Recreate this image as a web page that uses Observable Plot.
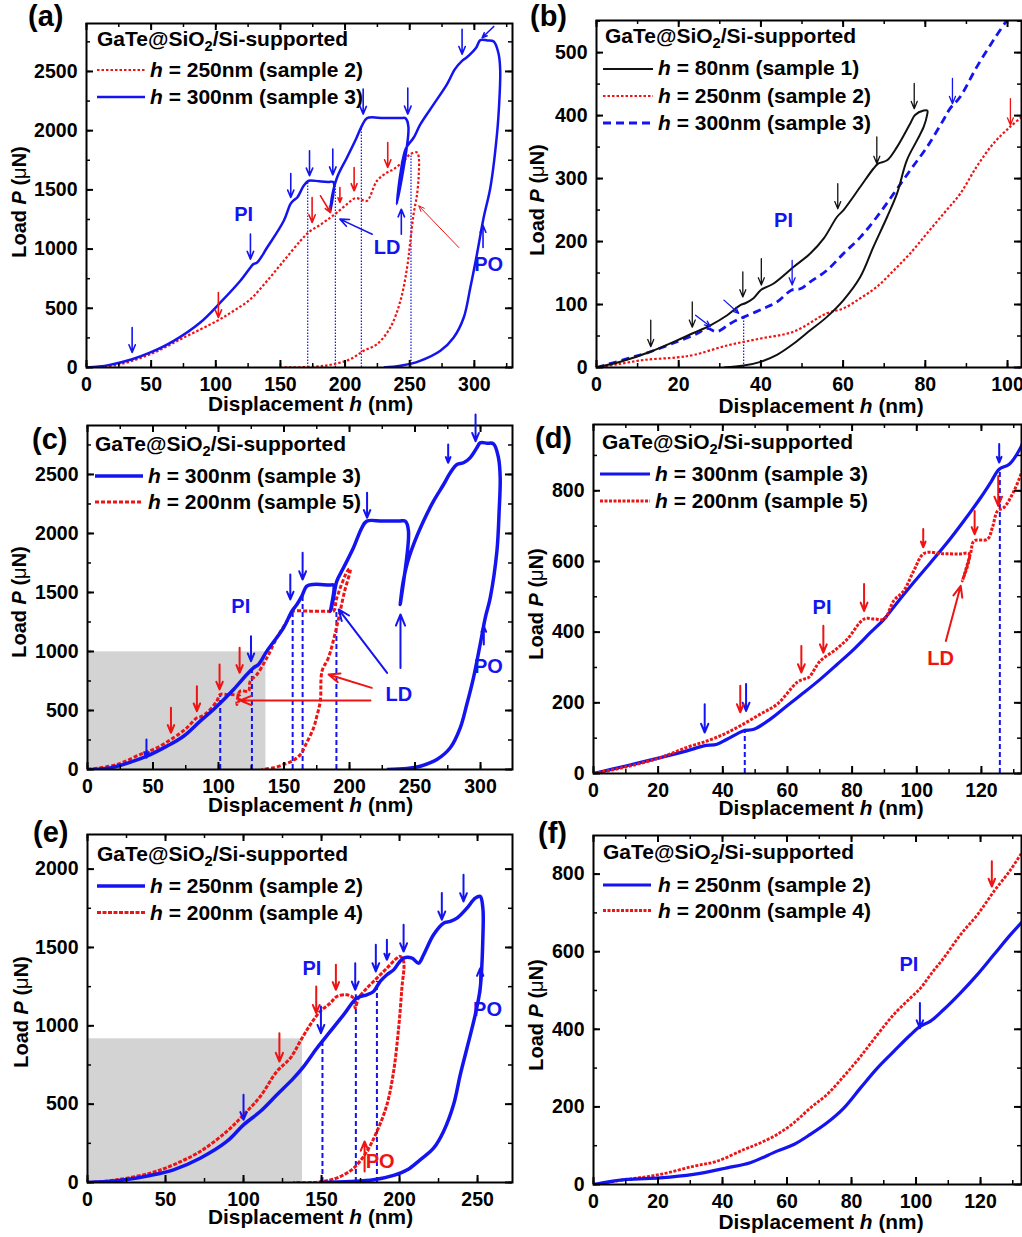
<!DOCTYPE html>
<html><head><meta charset="utf-8">
<script src="https://cdn.jsdelivr.net/npm/d3@7"></script>
<script src="https://cdn.jsdelivr.net/npm/@observablehq/plot@0.6"></script>
<style>
body{margin:0;background:#fff;}
#wrap{position:relative;width:1022px;height:1237px;overflow:hidden;background:#fff;}
</style></head><body><div id="wrap"></div>
<script>
// ---------------- DATA ----------------
// Panel (a)
const aBlue300 = [[0,0],[17,20],[35.3,70],[49.5,127],[67.5,225],[88,380],[103.6,549],[119,732],[126.8,845],[129,873],[132,887],[139.7,1013],[152.6,1239],[157.7,1380],[160,1410],[163,1436],[168,1534],[171.9,1577],[180,1572],[187,1567],[191,1565],[188.5,1318],[190,1450],[193.8,1605],[201.5,1774],[209,1943],[213,2041],[217,2106],[230,2106],[243,2106],[246.6,2106],[249,2030],[240,1380],[243,1650],[247,1850],[253,1940],[258.3,2055],[268.6,2224],[278.9,2393],[285,2520],[290.5,2590],[294,2618],[301.5,2703],[304.6,2765],[310,2762],[315,2753],[318.8,2646],[320,2506],[319.3,2250],[317.5,1970],[312.4,1520],[307.2,1267],[302,957],[296.9,676],[291.8,422],[284,253],[273.7,141],[258,56],[242.8,14],[230,0]];
const aRed250 = [[0,0],[23.7,22],[49.5,113],[75.3,253],[101,394],[113.9,479],[126.8,577],[139.7,732],[152.6,901],[165.5,1070],[173.2,1154],[180.9,1205],[188.7,1267],[193.8,1309],[201.5,1380],[208,1430],[213,1416],[217,1408],[224.7,1577],[232.5,1647],[237.6,1675],[245.4,1745],[250.5,1802],[255.7,1816],[257,1774],[257,1633],[255.7,1464],[253,1295],[250.5,1070],[248,845],[242.8,563],[235,338],[224.7,197],[214.4,141],[204,70],[191,28],[178,8],[152.6,0]];
const aGuides = [[171.1,1577],[192.5,1565],[212.6,2040],[251,1790]];
const aArrowsBlue = [[35.3,338,35.3,127],[126.8,1127,126.8,915],[158,1638,158,1436],[172.5,1830,172.5,1619],[190.5,1844,190.5,1627],[214,2351,214,2140],[248.5,2359,248.5,2140],[290.5,2857,290.5,2646],[315,2880,306,2785],[243.5,1126,243.5,1337],[306.7,1013,306.7,1200],[221,1126,196,1253]];
const aArrowsRed = [[102,633,102,422],[174.5,1436,174.5,1225],[181,1450,188.7,1309],[196,1520,196,1394],[207,1689,207,1492],[233,1900,233,1689]];
const aArrowsRedThin = [[288,1013,257,1365]];
const aLabels = [["PI",121.6,1295],["LD",232.5,1013],["PO",311,873]];
const aXTicks = [0,50,100,150,200,250,300], aXMinor = d3.range(0,330,25);
const aYTicks = [0,500,1000,1500,2000,2500], aYMinor = d3.range(0,2901,250);
const aLegend = ["= 250nm (sample 2)","= 300nm (sample 3)"];

// Panel (b)
const bBlack80 = [[0,0],[5.8,9],[13.1,25],[19.6,43],[23.3,54],[27.7,67],[31.8,83],[35,99],[36.2,102],[38.2,110],[40,123],[43,133],[48,160],[52,181],[55.3,205],[58.5,239],[60.1,250],[64.2,287],[67.4,316],[68.6,324],[70.7,329],[73.1,350],[76.3,387],[77.5,401],[79.6,408],[80.5,408],[80.4,400],[79.6,382],[78,361],[75.5,329],[73.1,276],[70.7,239],[67.4,192],[64.2,144],[60.1,107],[56,80],[52,59],[48,38],[43.9,20],[39.9,9],[35.8,3],[31,0]];
const bRed250 = [[0,0],[5,5],[11.5,12],[19.6,16],[23.7,20],[31.8,35],[39.9,46],[48,57],[56,86],[60.1,94],[64.2,110],[68.2,128],[72.3,154],[76.3,181],[80.4,213],[84.4,244],[88.5,276],[92.5,319],[96.6,356],[100.6,382],[103.5,398]];
const bBlue300 = [[0,0],[7.5,14],[13.1,25],[19.6,41],[24.5,54],[26.9,62],[29.3,57],[32.6,70],[35,78],[35.8,80],[40.7,94],[43.9,104],[47.5,123],[49.6,125],[52,136],[56,154],[60.1,181],[64.2,207],[68.2,239],[72.3,276],[76.3,313],[80.4,350],[84.4,393],[86,411],[88.5,430],[92.5,477],[96.6,520],[99.8,551]];
const bGuides = [[35.8,80]];
const bArrowsBlack = [[13.2,75,13.2,33],[23.3,104,23.3,64],[35.6,152,35.6,112],[40.1,173,40.1,131],[58.7,292,58.7,252],[68.2,366,68.2,324],[77.3,451,77.3,411]];
const bArrowsBlue = [[47.6,170,47.6,131],[86.6,459,86.6,419],[24.1,83,27.7,65],[31,107,34.6,86]];
const bArrowsRed = [[100.7,427,100.7,385]];
const bLabels = [["PI",45.5,234]];
const bXTicks = [0,20,40,60,80,100], bXMinor = d3.range(0,104,10);
const bYTicks = [0,100,200,300,400,500], bYMinor = d3.range(0,551,50);
const bLegend = ["= 80nm (sample 1)","= 250nm (sample 2)","= 300nm (sample 3)"];

// Panel (c)
const cBlue300 = [[0,0],[17.3,14],[35.1,71],[45.3,113],[60.6,198],[73.3,282],[86,410],[96.2,508],[111.5,678],[121.6,805],[126.7,862],[130.5,890],[136.9,1003],[149.6,1200],[156,1342],[159.8,1398],[163.6,1469],[167.4,1554],[172.5,1568],[180,1566],[185,1563],[187.8,1562],[185.5,1342],[187.8,1455],[190.3,1596],[195.4,1709],[203,1879],[209.4,2048],[213.2,2105],[225,2105],[238,2105],[242.5,2105],[245,2020],[238.7,1398],[240.5,1560],[243.8,1737],[248.9,1907],[256.5,2105],[264.1,2274],[271.8,2415],[276.9,2514],[282,2585],[287,2599],[292,2641],[297.2,2726],[299.7,2768],[305,2765],[309.9,2760],[313.7,2641],[315,2472],[314.2,2189],[312.5,1850],[307.4,1455],[303.6,1285],[299.7,1059],[294.6,777],[289.5,551],[284.5,353],[276.9,184],[266.7,85],[254,28],[243.8,8],[228.5,0]];
const cRed200 = [[0,0],[22.4,42],[40.2,127],[52.9,184],[65.6,268],[75.8,353],[83.5,438],[86,445],[91.1,480],[98.7,579],[101.3,636],[106.4,636],[116.5,621],[114,551],[116.5,664],[122.9,664],[124.2,749],[129.3,805],[136.9,946],[144.5,1116],[152.2,1257],[156,1328],[157.3,1342],[170,1342],[183,1342],[187.8,1342],[190.3,1455],[199.2,1695],[200.5,1700],[196,1500],[190,1200],[184,950],[179,833],[177.7,579],[175,450],[172.6,353],[167,220],[162.5,127],[156,70],[149.7,42],[142,15],[133,0]];
const cGuides = [[101.3,636],[125.5,860],[156.6,1342],[164.2,1480],[190,1342]];
const cGrey = [[0,136.2,0,997]];
const cArrowsBlue = [[45,254,45,99],[124.8,1130,124.8,918],[154.8,1652,154.8,1441],[164.2,1836,164.2,1610],[213.4,2345,213.4,2133],[275.3,2754,275.3,2599],[296.2,3008,296.2,2782],[238.9,861,238.9,1314],[302.5,1059,302.5,1215],[228.7,819,191.7,1356]];
const cArrowsRed = [[63.7,523,63.7,311],[83.5,706,83.5,494],[100.8,890,100.8,678],[116.1,1031,116.1,819],[217,692,184,805],[216,585,116.6,585]];
const cLabels = [["PI",117,1384],["LD",237.6,636],["PO",306,876]];
const cXTicks = [0,50,100,150,200,250,300], cXMinor = d3.range(0,325,25);
const cYTicks = [0,500,1000,1500,2000,2500], cYMinor = d3.range(0,2901,250);
const cLegend = ["= 300nm (sample 3)","= 200nm (sample 5)"];

// Panel (d)
const dBlue300 = [[0,0],[10.3,22],[20.7,45],[28.9,64],[34.1,78],[38.2,83],[41.3,97],[46.5,121],[49.6,125],[54.7,154],[59.9,192],[65.1,229],[70.2,267],[75.4,309],[80.6,352],[85.7,399],[89.9,437],[94,484],[99.1,541],[104.3,597],[109.5,654],[114.6,715],[119.8,781],[122.9,824],[125.5,861],[128.6,875],[132.2,923],[133,941]];
const dRed200 = [[0,0],[10.3,19],[20.7,45],[28.9,74],[35.1,92],[40.3,111],[45.4,135],[51.6,168],[56.8,196],[63,258],[65.1,267],[66.6,272],[70.2,319],[74.4,347],[78.5,380],[83.7,437],[87,437],[89.9,437],[92.9,489],[96,517],[99.1,574],[102.3,623],[108,622],[113,621],[116.2,621],[114.1,545],[116.7,625],[117.7,658],[121.9,663],[123.4,696],[125,743],[127,753],[130.1,800],[133,865]];
const dGuides = [[46.8,125],[125.7,861]];
const dArrowsBlue = [[34.4,196,34.4,116],[47.2,253,47.2,177],[125.5,932,125.5,880]];
const dArrowsRed = [[45.4,248,45.4,173],[64.3,361,64.3,286],[71.1,418,71.1,342],[83.7,536,83.7,460],[102,692,102,640],[117.9,743,117.9,677],[125.2,842,125.2,757],[109,375,113.6,531]];
const dLabelsBlue = [["PI",70.7,470]], dLabelsRed = [["LD",107.4,324]];
const dXTicks = [0,20,40,60,80,100,120], dXMinor = d3.range(0,133,10);
const dYTicks = [0,200,400,600,800], dYMinor = d3.range(0,988,100);
const dLegend = ["= 300nm (sample 3)","= 200nm (sample 5)"];

// Panel (e)
const eBlue250 = [[0,0],[18.8,11],[40.2,45],[55.1,81],[72.2,155],[89.3,262],[100,368],[110.7,453],[121.4,560],[132.1,666],[138.5,740],[147,857],[155.6,964],[164.1,1070],[172.6,1177],[179,1198],[183.3,1219],[187.6,1283],[191.9,1326],[196.2,1357],[199.4,1400],[202.6,1432],[208,1432],[212.2,1400],[215.4,1453],[221.8,1581],[228.2,1655],[232.5,1666],[236.8,1687],[243.2,1751],[248.5,1815],[251.7,1826],[253.4,1751],[253.4,1560],[251.7,1240],[248.5,1070],[243.2,857],[238.9,687],[234.6,496],[228.2,326],[221.8,219],[213.2,145],[205,81],[196.2,45],[183.3,17],[168.4,6],[149,0]];
const eRed200 = [[0,0],[18.8,17],[40.2,60],[55.1,113],[72.2,198],[89.3,326],[100,432],[110.7,549],[121.4,709],[130,794],[136.3,900],[142.7,1006],[149.1,1091],[155.6,1145],[159.8,1187],[166.2,1198],[170.5,1177],[171.6,1113],[173.7,1177],[179,1240],[185.5,1304],[191.9,1368],[198.3,1432],[200.4,1443],[202.6,1411],[201.5,1240],[199.4,985],[196.2,709],[191.9,496],[185.5,326],[179,198],[170.5,91],[162,38],[153.4,11],[144.9,0],[132,0]];
const eGuides = [[150.6,900],[172,1198],[185.5,1283]];
const eGrey = [[0,137.8,0,917]];
const eArrowsBlue = [[100,560,100,400],[149.6,1123,149.6,953],[171.6,1400,171.6,1230],[184.8,1517,184.8,1347],[191.9,1549,191.9,1421],[202.6,1645,202.6,1474],[227.1,1847,227.1,1677],[241,1964,241,1794],[251.7,1209,251.7,1368]];
const eArrowsRed = [[123,953,123,772],[146.6,1251,146.6,1081],[159.2,1389,159.2,1230],[177.6,70,177.6,262]];
const eLabelsBlue = [["PI",143.8,1368],["PO",256.4,1102]], eLabelsRed = [["PO",187.6,134]];
const eXTicks = [0,50,100,150,200,250], eXMinor = d3.range(0,273,25);
const eYTicks = [0,500,1000,1500,2000], eYMinor = d3.range(0,2221,250);
const eLegend = ["= 250nm (sample 2)","= 200nm (sample 4)"];

// Panel (f)
const fBlue250 = [[0,0],[10.3,13],[20.7,17],[31,26],[41.4,43],[48.6,56],[56.9,86],[62.1,103],[67.2,129],[72.4,159],[77.6,197],[82.8,249],[88,300],[93.1,343],[98.3,386],[101.4,408],[104.5,421],[108.6,451],[113.8,494],[119,541],[124.1,592],[129.3,644],[133,678]];
const fRed200 = [[0,0],[10.3,13],[20.7,26],[31,47],[38.3,60],[46.6,90],[51.7,107],[56.9,129],[62.1,159],[67.2,197],[72.4,232],[77.6,279],[82.8,330],[88,386],[93.1,438],[98.3,481],[101.4,506],[104.5,541],[108.6,584],[113.8,644],[119,695],[124.1,755],[129.3,811],[133,858]];
const fArrowsBlue = [[101.2,468,101.2,403]];
const fArrowsRed = [[123.5,833,123.5,768]];
const fLabels = [["PI",97.8,567]];
const fXTicks = [0,20,40,60,80,100,120], fXMinor = d3.range(0,133,10);
const fYTicks = [0,200,400,600,800], fYMinor = d3.range(0,900,100);
const fLegend = ["= 250nm (sample 2)","= 200nm (sample 4)"];

// ---------------- RENDER ----------------
const FONT = '"Liberation Sans", Arial, Helvetica, sans-serif';
const BLUE = "#1414f0", RED = "#ee1414", BLACK = "#111";
const wrap = document.getElementById("wrap");
const X = d => d[0], Y = d => d[1];

const line = (data, s) => Plot.line(data, {x: X, y: Y, stroke: s.c, strokeWidth: s.w, strokeDasharray: s.d, strokeLinecap: "butt", strokeLinejoin: "round", curve: "catmull-rom", clip: true});
const guides = (data, w, dash) => Plot.ruleX(data, {x: X, y1: 0, y2: Y, stroke: BLUE, strokeWidth: w, strokeDasharray: dash, strokeLinecap: "butt", clip: true});
const arrows = (data, stroke, w = 1.6) => Plot.arrow(data, {x1: d => d[0], y1: d => d[1], x2: d => d[2], y2: d => d[3], stroke, strokeWidth: w, headLength: 9, headAngle: 45});
const labels = (data, fill) => Plot.text(data, {x: d => d[1], y: d => d[2], text: d => d[0], fill, fontSize: 20, fontWeight: "bold"});
const grey = data => Plot.rect(data, {x1: d => d[0], x2: d => d[1], y1: d => d[2], y2: d => d[3], fill: "#d3d3d3"});

function panel(o) {
  const fw = o.width - o.ml - o.mr, fh = o.height - o.mt - o.mb;
  const id = d => d;
  const ticks = (xs, ys, len, sw) => [
    Plot.tickX(xs, {x: id, insetTop: fh - len, stroke: "black", strokeWidth: sw}),
    Plot.tickX(xs, {x: id, insetBottom: fh - len, stroke: "black", strokeWidth: sw}),
    Plot.tickY(ys, {y: id, insetRight: fw - len, stroke: "black", strokeWidth: sw}),
    Plot.tickY(ys, {y: id, insetLeft: fw - len, stroke: "black", strokeWidth: sw})
  ];
  const svg = Plot.plot({
    width: o.width, height: o.height,
    marginLeft: o.ml, marginRight: o.mr, marginTop: o.mt, marginBottom: o.mb,
    x: {domain: o.xd}, y: {domain: o.yd},
    style: {background: "transparent", overflow: "visible", fontFamily: FONT, fontSize: "19.5px", fontWeight: "bold", color: "black"},
    marks: [
      ...(o.under || []),
      ...o.marks,
      ...ticks(o.xMinor, o.yMinor, 4, 1.5),
      ...ticks(o.xTicks, o.yTicks, 7, 2),
      Plot.frame({stroke: "black", strokeWidth: 2}),
      Plot.axisX(o.xTicks, {tickSize: 0, tickPadding: 10, tickFormat: d => String(d), label: null, fill: "black"}),
      Plot.axisY(o.yTicks, {tickSize: 0, tickPadding: 9, tickFormat: d => String(d), label: null, fill: "black"}),
      ...(o.over || [])
    ]
  });
  svg.style.position = "absolute";
  svg.style.left = o.left + "px";
  svg.style.top = o.top + "px";
  wrap.appendChild(svg);
}

// series styles
const sRedDot = {c: RED, w: 2.2, d: "2.5,2"};
const sBlueA = {c: BLUE, w: 2.5, d: null};
const sBlack = {c: BLACK, w: 2, d: null};
const sBlueDash = {c: BLUE, w: 2.8, d: "8,5"};
const sBlueThick = {c: BLUE, w: 3.5, d: null};
const sRedDash = {c: RED, w: 3, d: "4,2"};
const sRedDot3 = {c: RED, w: 3, d: "3,1.5"};

panel({left: 0, top: 0, width: 520, height: 420, ml: 86, mr: 8, mt: 23, mb: 53,
  xd: [0, 329.5], yd: [0, 2905], xTicks: aXTicks, xMinor: aXMinor, yTicks: aYTicks, yMinor: aYMinor,
  marks: [guides(aGuides, 1.2, "1.5,1.5"), line(aRed250, sRedDot), line(aBlue300, sBlueA)],
  over: [arrows(aArrowsBlue, BLUE), arrows(aArrowsRed, RED), arrows(aArrowsRedThin, RED, 1), labels(aLabels, BLUE)]});

panel({left: 510, top: 0, width: 512, height: 420, ml: 86, mr: 1, mt: 20, mb: 53,
  xd: [0, 103.4], yd: [0, 551], xTicks: bXTicks, xMinor: bXMinor, yTicks: bYTicks, yMinor: bYMinor,
  marks: [guides(bGuides, 1.2, "1.5,1.5"), line(bRed250, sRedDot), line(bBlue300, sBlueDash), line(bBlack80, sBlack)],
  over: [arrows(bArrowsBlack, BLACK, 1.3), arrows(bArrowsBlue, BLUE, 1.3), arrows(bArrowsRed, RED, 1.3), labels(bLabels, BLUE)]});

panel({left: 0, top: 410, width: 520, height: 410, ml: 87, mr: 8, mt: 15, mb: 51,
  xd: [0, 324.4], yd: [0, 2915], xTicks: cXTicks, xMinor: cXMinor, yTicks: cYTicks, yMinor: cYMinor,
  under: [grey(cGrey)],
  marks: [guides(cGuides, 2, "5,3"), line(cRed200, sRedDash), line(cBlue300, sBlueThick)],
  over: [arrows(cArrowsBlue, BLUE, 2), arrows(cArrowsRed, RED, 2), labels(cLabels, BLUE)]});

panel({left: 510, top: 410, width: 512, height: 410, ml: 83, mr: 1, mt: 14, mb: 47,
  xd: [0, 132.4], yd: [0, 987.5], xTicks: dXTicks, xMinor: dXMinor, yTicks: dYTicks, yMinor: dYMinor,
  marks: [guides(dGuides, 2, "5,3"), line(dBlue300, {c: BLUE, w: 3.2, d: null}), line(dRed200, sRedDot3)],
  over: [arrows(dArrowsBlue, BLUE, 2), arrows(dArrowsRed, RED, 2), labels(dLabelsBlue, BLUE), labels(dLabelsRed, RED)]});

panel({left: 0, top: 820, width: 520, height: 417, ml: 87, mr: 8, mt: 14, mb: 55,
  xd: [0, 272.4], yd: [0, 2221], xTicks: eXTicks, xMinor: eXMinor, yTicks: eYTicks, yMinor: eYMinor,
  under: [grey(eGrey)],
  marks: [guides(eGuides, 2, "5,3"), line(eRed200, {c: RED, w: 3, d: "4,1.5"}), line(eBlue250, sBlueThick)],
  over: [arrows(eArrowsBlue, BLUE, 2), arrows(eArrowsRed, RED, 2), labels(eLabelsBlue, BLUE), labels(eLabelsRed, RED)]});

panel({left: 510, top: 820, width: 512, height: 417, ml: 83, mr: 1, mt: 15, mb: 53,
  xd: [0, 132.7], yd: [0, 899.5], xTicks: fXTicks, xMinor: fXMinor, yTicks: fYTicks, yMinor: fYMinor,
  marks: [line(fRed200, {c: RED, w: 2.8, d: "3,1.5"}), line(fBlue250, {c: BLUE, w: 3.2, d: null})],
  over: [arrows(fArrowsBlue, BLUE, 2), arrows(fArrowsRed, RED, 2), labels(fLabels, BLUE)]});

// ---------------- OVERLAY: labels, legends, axis titles ----------------
const ov = d3.select(wrap).append("svg")
  .attr("width", 1022).attr("height", 1237)
  .style("position", "absolute").style("left", "0px").style("top", "0px")
  .style("font-family", FONT).style("font-weight", "bold").style("pointer-events", "none");

function rich(x, y, parts, size, opts = {}) {
  const t = ov.append("text").attr("font-size", size).attr("fill", "black");
  if (opts.rotate) t.attr("transform", `translate(${x},${y}) rotate(-90)`).attr("text-anchor", "middle");
  else t.attr("transform", `translate(${x},${y}) scale(${opts.sx || 1},1)`).attr("text-anchor", opts.anchor || "start");
  let shift = 0;
  for (const [txt, st] of parts) {
    const s = t.append("tspan").text(txt);
    if (st === "i") s.attr("font-style", "italic");
    if (st === "n") s.attr("font-weight", "normal");
    if (st === "sub") { s.attr("font-size", size * 0.7).attr("dy", 5); shift = 5; }
    else if (shift) { s.attr("dy", -shift); shift = 0; }
  }
}

const titleParts = [["GaTe@SiO"], ["2", "sub"], ["/Si-supported"]];
function legend(tx, tb, lx1, lx2, textX, rows) {
  rich(tx, tb, titleParts, 20, {sx: 1.05});
  for (const r of rows) {
    ov.append("line").attr("x1", lx1).attr("x2", lx2).attr("y1", r.ly).attr("y2", r.ly)
      .attr("stroke", r.s.c).attr("stroke-width", r.s.w).attr("stroke-dasharray", r.s.d);
    rich(textX, r.by, [["h", "i"], [" " + r.label]], 20, {sx: 1.05});
  }
}
legend(97, 46, 97, 145, 150, [{ly: 70, by: 77, label: aLegend[0], s: sRedDot}, {ly: 97, by: 104, label: aLegend[1], s: sBlueA}]);
legend(605, 42.5, 603, 653, 658, [{ly: 69, by: 75, label: bLegend[0], s: sBlack}, {ly: 96, by: 102.5, label: bLegend[1], s: sRedDot}, {ly: 123, by: 130, label: bLegend[2], s: sBlueDash}]);
legend(95, 450.5, 95, 143, 148, [{ly: 476, by: 482.5, label: cLegend[0], s: sBlueThick}, {ly: 502, by: 509, label: cLegend[1], s: sRedDash}]);
legend(602, 449, 600, 650, 655, [{ly: 474, by: 481, label: dLegend[0], s: {c: BLUE, w: 3.2, d: null}}, {ly: 501, by: 508, label: dLegend[1], s: sRedDot3}]);
legend(97, 860.5, 97, 145, 150, [{ly: 886, by: 892.5, label: eLegend[0], s: sBlueThick}, {ly: 912.5, by: 920, label: eLegend[1], s: {c: RED, w: 3, d: "4,1.5"}}]);
legend(603, 859, 603, 651, 658, [{ly: 885, by: 891.5, label: fLegend[0], s: {c: BLUE, w: 3.2, d: null}}, {ly: 910.5, by: 918, label: fLegend[1], s: {c: RED, w: 2.8, d: "3,1.5"}}]);

// panel letters
[["(a)", 28, 26], ["(b)", 530, 26], ["(c)", 32, 449], ["(d)", 535, 448], ["(e)", 33, 842], ["(f)", 538, 843]]
  .forEach(([t, x, y]) => ov.append("text").attr("x", x).attr("y", y).attr("font-size", 29).text(t));

// axis titles
const xTitle = [["Displacement "], ["h", "i"], [" (nm)"]];
const yTitle = [["Load "], ["P", "i"], [" ("], ["\u03bc", "n"], ["N)"]];
[[310.5, 411], [821, 413], [310.5, 812], [821, 815], [310.5, 1224], [821, 1229]]
  .forEach(([x, y]) => rich(x, y, xTitle, 19.5, {anchor: "middle", sx: 1.07}));
[[26, 202], [544, 200], [26, 602], [543, 604], [28, 1012], [543, 1015]]
  .forEach(([x, y]) => rich(x, y, yTitle, 20, {rotate: true}));
</script></body></html>
